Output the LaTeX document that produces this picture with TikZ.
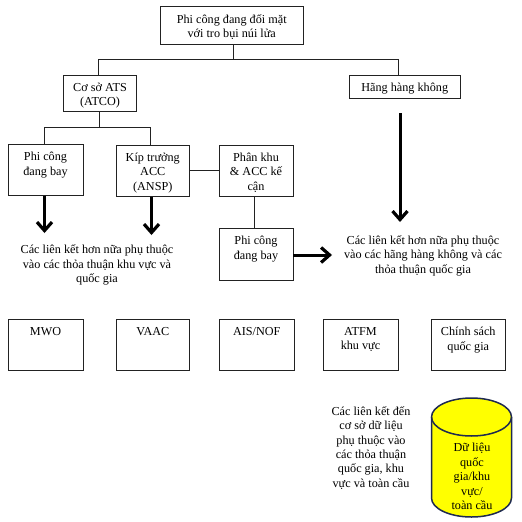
\documentclass[tikz,border=0pt]{standalone}
\usepackage{fontspec}
\setmainfont{Liberation Serif}
\usetikzlibrary{arrows.meta,calc}
\definecolor{lineink}{HTML}{222222}
\definecolor{dbedge}{HTML}{1F2A50}
\definecolor{dbfill}{HTML}{FFFF00}
\tikzset{
  boxs/.style={draw=lineink,line width=0.9pt,outer sep=0pt,inner sep=0pt,anchor=north west},
  lbl/.style={align=center,inner sep=0pt,outer sep=0pt,anchor=north,font=\fontsize{12.2}{14.4}\selectfont,text=black},
  link/.style={draw=lineink,line width=0.8pt},
  bigarrow/.style={draw=black,line width=3pt,-{Straight Barb[length=8.5pt,width=15pt,line width=3.2pt]}},
}
\newcommand{\bx}[6]{%
  \node[boxs,minimum width=\dimexpr#4pt-#2pt\relax,minimum height=\dimexpr#5pt-#3pt\relax] (#1) at (#2,#3) {};
  \node[lbl] (#1t) at ($(#1.north)+(0,8)$) {#6};
}
\begin{document}
\begin{tikzpicture}[x=1pt,y=-1pt]
\useasboundingbox (0,0) rectangle (522,522);
\bx{top}{160.5}{6.5}{303}{44}{Phi công đang đối mặt\\với tro bụi núi lửa}
\bx{ats}{63.5}{75}{136.5}{111}{Cơ sở ATS\\(ATCO)}
\bx{air}{349.5}{75}{460}{98.5}{Hãng hàng không}
\bx{pilot}{8}{144.5}{83}{195.5}{Phi công\\đang bay}
\bx{acc}{116}{145}{189.5}{196.5}{Kíp trưởng\\ACC\\(ANSP)}
\bx{sector}{219}{145}{293}{196.5}{Phân khu\\\& ACC kế\\cận}
\bx{pilotb}{219}{228.5}{293}{280}{Phi công\\đang bay}
\bx{mwo}{8}{319.5}{83}{370.5}{MWO}
\bx{vaac}{116}{319.5}{189.5}{370.5}{VAAC}
\bx{ais}{219.5}{319.5}{294}{370.5}{AIS/NOF}
\bx{atfm}{323}{319.5}{398}{370.5}{ATFM\\khu vực}
\bx{pol}{431}{319.5}{505.5}{370.5}{Chính sách\\quốc gia}

% tree connectors
\coordinate (busa) at (233.5,59.5);
\coordinate (busb) at (99,127.5);
\draw[link] (top.south -| busa) -- (busa);
\draw[link] (ats.north -| 98,0) -- (98,59.5) -- (398.5,59.5) -- (air.north -| 398.5,0);
\draw[link] (ats.south -| busb) -- (busb);
\draw[link] (pilot.north -| 44.5,0) -- (44.5,127.5) -- (150,127.5) -- (acc.north -| 150,0);
\draw[link] (acc.east) -- (sector.west);
\draw[link] (sector.south -| 254.5,0) -- (pilotb.north -| 254.5,0);

% heavy arrows
\coordinate (enda) at (44.5,233);
\coordinate (endb) at (151.5,235);
\coordinate (endc) at (400,222);
\coordinate (startc) at (400,113);
\coordinate (endd) at (332,255);
\draw[bigarrow] (pilot.south -| enda) -- (enda);
\draw[bigarrow] (acc.south -| endb) -- (endb);
\draw[bigarrow] (startc) -- (endc);
\draw[bigarrow] (pilotb.east |- endd) -- (endd);

% free texts
\node[lbl] (notea) at (97,245) {Các liên kết hơn nữa phụ thuộc\\vào các thỏa thuận khu vực và\\quốc gia};
\node[lbl] (noteb) at (423,235.5) {Các liên kết hơn nữa phụ thuộc\\vào các hãng hàng không và các\\thỏa thuận quốc gia};
\node[lbl] (notec) at (371,406.5) {Các liên kết đến\\cơ sở dữ liệu\\phụ thuộc vào\\các thỏa thuận\\quốc gia, khu\\vực và toàn cầu};

% database cylinder
\path[draw=dbedge,fill=dbfill,line width=1.5pt]
  (431.5,417) arc[start angle=180,end angle=360,x radius=40,y radius=19]
  -- (511.5,498) arc[start angle=0,end angle=180,x radius=40,y radius=19] -- cycle;
\draw[dbedge,line width=1.5pt] (431.5,417) arc[start angle=180,end angle=0,x radius=40,y radius=19];
\node[lbl] (dbt) at (472,443.5) {Dữ liệu\\quốc\\gia/khu\\vực/\\toàn cầu};
\end{tikzpicture}
\end{document}
